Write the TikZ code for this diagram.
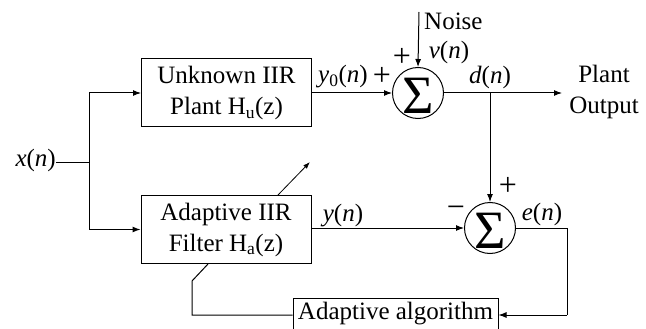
\documentclass[tikz,border=0pt]{standalone}
\usepackage{fontspec}
\setmainfont{Liberation Serif}
\usetikzlibrary{arrows.meta}
\begin{document}
\begin{tikzpicture}[x=1pt,y=-1pt,
  every node/.style={font=\fontsize{25}{31}\selectfont, inner sep=0pt},
  blk/.style={draw, line width=1pt, align=center, minimum width=170pt, minimum height=68pt},
  sumc/.style={draw, circle, line width=1pt, minimum size=51pt},
  wire/.style={line width=1pt},
  arr/.style={wire, -{Latex[length=8pt,width=6pt]}},
  sgn/.style={font=\fontsize{32}{32}\selectfont}]
\useasboundingbox (0,0) rectangle (646,329);
\clip (0,0) rectangle (646,329);
% blocks
\node[blk] (plant) at (226.5,93) {Unknown IIR\\Plant H\textsubscript{u}(z)};
\node[blk] (filt) at (226,229.5) {Adaptive IIR\\Filter H\textsubscript{a}(z)};
\node[draw, line width=1pt, minimum width=205pt, minimum height=40pt] (algo) at (395.5,318) {};
\node at (395.5,314) {Adaptive algorithm};
% sums
\node[sumc] (s1) at (418,93) {};
\node at (418,96) {\fontsize{54}{54}\selectfont Σ};
\node[sumc] (s2) at (490,228) {};
\node at (490,231) {\fontsize{54}{54}\selectfont Σ};
% input
\node[anchor=east] (x) at (56,160) {\textit{x}(\textit{n})};
\coordinate (sp) at (89,162);
\draw[wire] (x.east |- sp) -- (sp);
\draw[arr] (sp) |- (plant.west);
\draw[arr] (sp) |- (filt.west);
% plant to sum1
\draw[arr] (plant.east) -- (s1.west);
\coordinate (nz) at (419,12);
\draw[arr] (nz) -- (s1.north);
\node[anchor=west] (noise) at (424,21) {Noise};
\node (vn) at (449,52) {\textit{v}(\textit{n})};
\node[sgn] (p1) at (402,57) {+};
\node[sgn] (p2) at (382,76) {+};
\node (y0) at (343,77) {\textit{y}\textsubscript{0}(\textit{n})};
% output
\coordinate (out) at (562,93);
\draw[arr] (s1.east) -- (out);
\node (dn) at (490,77) {\textit{d}(\textit{n})};
\node[align=center] (po) at (604,92) {Plant\\Output};
\coordinate (br) at (490,93);
\draw[arr] (br) -- (s2.north);
% lower path
\draw[arr] (filt.east |- s2.west) -- (s2.west);
\node (yn) at (343,216) {\textit{y}(\textit{n})};
\node[sgn] (p3) at (508,186) {+};
\node[sgn] (m1) at (456,212) {−};
\node (en) at (542,214) {\textit{e}(\textit{n})};
\coordinate (c1) at (567,228);
\coordinate (c2) at (567,315);
\draw[wire] (s2.east) -- (c1) -- (c2);
\draw[arr] (c2) -- (c2 -| algo.east);
% feedback
\coordinate (f1) at (192,315);
\coordinate (f2) at (192,281);
\coordinate (f3) at (208,264);
\draw[wire] (algo.west |- c2) -- (f1) -- (f2) -- (f3);
% adaptation arrow
\coordinate (a1) at (278,195);
\coordinate (a2) at (310,162);
\draw[line width=0.8pt, -{Latex[length=7pt,width=5pt]}] (a1) -- (a2);
\end{tikzpicture}
\end{document}
